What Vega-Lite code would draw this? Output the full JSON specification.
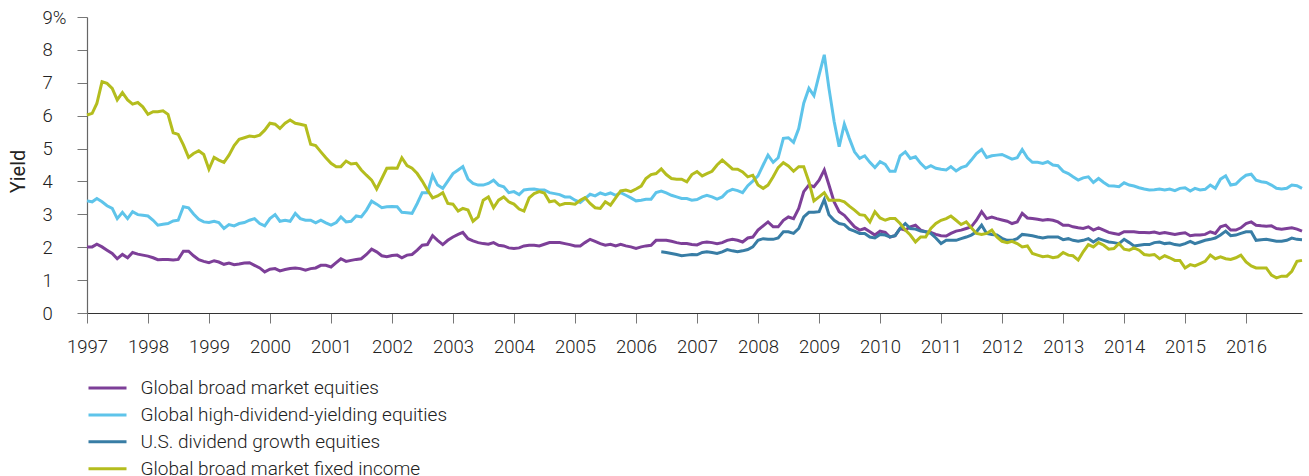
{
  "$schema": "https://vega.github.io/schema/vega-lite/v6.json",
  "width": 1215,
  "height": 296,
  "autosize": "none",
  "padding": {"left": 87, "top": 17, "right": 7, "bottom": 163},
  "background": "white",
  "config": {
    "view": {"stroke": null},
    "font": "Roboto"
  },
  "datasets": {
    "a": [
{"d":"1997-01-01","v":2.01},{"d":"1997-02-01","v":2.01},{"d":"1997-03-01","v":2.09},{"d":"1997-04-01","v":2.01},{"d":"1997-05-01","v":1.91},{"d":"1997-06-01","v":1.81},{"d":"1997-07-01","v":1.65},{"d":"1997-08-01","v":1.78},{"d":"1997-09-01","v":1.68},{"d":"1997-10-01","v":1.84},{"d":"1997-11-01","v":1.79},{"d":"1997-12-01","v":1.76},
{"d":"1998-01-01","v":1.73},{"d":"1998-02-01","v":1.68},{"d":"1998-03-01","v":1.62},{"d":"1998-04-01","v":1.63},{"d":"1998-05-01","v":1.63},{"d":"1998-06-01","v":1.61},{"d":"1998-07-01","v":1.63},{"d":"1998-08-01","v":1.88},{"d":"1998-09-01","v":1.88},{"d":"1998-10-01","v":1.74},{"d":"1998-11-01","v":1.62},{"d":"1998-12-01","v":1.57},
{"d":"1999-01-01","v":1.53},{"d":"1999-02-01","v":1.59},{"d":"1999-03-01","v":1.55},{"d":"1999-04-01","v":1.48},{"d":"1999-05-01","v":1.52},{"d":"1999-06-01","v":1.47},{"d":"1999-07-01","v":1.49},{"d":"1999-08-01","v":1.52},{"d":"1999-09-01","v":1.53},{"d":"1999-10-01","v":1.45},{"d":"1999-11-01","v":1.37},{"d":"1999-12-01","v":1.25},
{"d":"2000-01-01","v":1.33},{"d":"2000-02-01","v":1.35},{"d":"2000-03-01","v":1.28},{"d":"2000-04-01","v":1.32},{"d":"2000-05-01","v":1.35},{"d":"2000-06-01","v":1.37},{"d":"2000-07-01","v":1.35},{"d":"2000-08-01","v":1.30},{"d":"2000-09-01","v":1.35},{"d":"2000-10-01","v":1.37},{"d":"2000-11-01","v":1.45},{"d":"2000-12-01","v":1.45},
{"d":"2001-01-01","v":1.40},{"d":"2001-02-01","v":1.53},{"d":"2001-03-01","v":1.65},{"d":"2001-04-01","v":1.57},{"d":"2001-05-01","v":1.60},{"d":"2001-06-01","v":1.63},{"d":"2001-07-01","v":1.65},{"d":"2001-08-01","v":1.78},{"d":"2001-09-01","v":1.94},{"d":"2001-10-01","v":1.86},{"d":"2001-11-01","v":1.74},{"d":"2001-12-01","v":1.71},
{"d":"2002-01-01","v":1.75},{"d":"2002-02-01","v":1.76},{"d":"2002-03-01","v":1.68},{"d":"2002-04-01","v":1.76},{"d":"2002-05-01","v":1.78},{"d":"2002-06-01","v":1.91},{"d":"2002-07-01","v":2.06},{"d":"2002-08-01","v":2.08},{"d":"2002-09-01","v":2.35},{"d":"2002-10-01","v":2.21},{"d":"2002-11-01","v":2.08},{"d":"2002-12-01","v":2.21},
{"d":"2003-01-01","v":2.31},{"d":"2003-02-01","v":2.39},{"d":"2003-03-01","v":2.45},{"d":"2003-04-01","v":2.26},{"d":"2003-05-01","v":2.19},{"d":"2003-06-01","v":2.14},{"d":"2003-07-01","v":2.11},{"d":"2003-08-01","v":2.09},{"d":"2003-09-01","v":2.14},{"d":"2003-10-01","v":2.06},{"d":"2003-11-01","v":2.04},{"d":"2003-12-01","v":1.98},
{"d":"2004-01-01","v":1.96},{"d":"2004-02-01","v":1.98},{"d":"2004-03-01","v":2.04},{"d":"2004-04-01","v":2.06},{"d":"2004-05-01","v":2.06},{"d":"2004-06-01","v":2.04},{"d":"2004-07-01","v":2.09},{"d":"2004-08-01","v":2.14},{"d":"2004-09-01","v":2.14},{"d":"2004-10-01","v":2.14},{"d":"2004-11-01","v":2.11},{"d":"2004-12-01","v":2.08},
{"d":"2005-01-01","v":2.04},{"d":"2005-02-01","v":2.04},{"d":"2005-03-01","v":2.14},{"d":"2005-04-01","v":2.24},{"d":"2005-05-01","v":2.18},{"d":"2005-06-01","v":2.11},{"d":"2005-07-01","v":2.06},{"d":"2005-08-01","v":2.09},{"d":"2005-09-01","v":2.04},{"d":"2005-10-01","v":2.09},{"d":"2005-11-01","v":2.04},{"d":"2005-12-01","v":2.01},
{"d":"2006-01-01","v":1.96},{"d":"2006-02-01","v":2.01},{"d":"2006-03-01","v":2.04},{"d":"2006-04-01","v":2.06},{"d":"2006-05-01","v":2.21},{"d":"2006-06-01","v":2.21},{"d":"2006-07-01","v":2.21},{"d":"2006-08-01","v":2.18},{"d":"2006-09-01","v":2.14},{"d":"2006-10-01","v":2.11},{"d":"2006-11-01","v":2.11},{"d":"2006-12-01","v":2.08},
{"d":"2007-01-01","v":2.07},{"d":"2007-02-01","v":2.14},{"d":"2007-03-01","v":2.16},{"d":"2007-04-01","v":2.14},{"d":"2007-05-01","v":2.11},{"d":"2007-06-01","v":2.14},{"d":"2007-07-01","v":2.21},{"d":"2007-08-01","v":2.24},{"d":"2007-09-01","v":2.21},{"d":"2007-10-01","v":2.16},{"d":"2007-11-01","v":2.28},{"d":"2007-12-01","v":2.31},
{"d":"2008-01-01","v":2.52},{"d":"2008-02-01","v":2.65},{"d":"2008-03-01","v":2.77},{"d":"2008-04-01","v":2.62},{"d":"2008-05-01","v":2.62},{"d":"2008-06-01","v":2.82},{"d":"2008-07-01","v":2.92},{"d":"2008-08-01","v":2.87},{"d":"2008-09-01","v":3.18},{"d":"2008-10-01","v":3.69},{"d":"2008-11-01","v":3.89},{"d":"2008-12-01","v":3.84},
{"d":"2009-01-01","v":4.04},{"d":"2009-02-01","v":4.35},{"d":"2009-03-01","v":3.89},{"d":"2009-04-01","v":3.38},{"d":"2009-05-01","v":3.08},{"d":"2009-06-01","v":2.97},{"d":"2009-07-01","v":2.80},{"d":"2009-08-01","v":2.62},{"d":"2009-09-01","v":2.52},{"d":"2009-10-01","v":2.57},{"d":"2009-11-01","v":2.47},{"d":"2009-12-01","v":2.37},
{"d":"2010-01-01","v":2.49},{"d":"2010-02-01","v":2.45},{"d":"2010-03-01","v":2.31},{"d":"2010-04-01","v":2.35},{"d":"2010-05-01","v":2.57},{"d":"2010-06-01","v":2.52},{"d":"2010-07-01","v":2.62},{"d":"2010-08-01","v":2.67},{"d":"2010-09-01","v":2.52},{"d":"2010-10-01","v":2.47},{"d":"2010-11-01","v":2.45},{"d":"2010-12-01","v":2.39},
{"d":"2011-01-01","v":2.35},{"d":"2011-02-01","v":2.34},{"d":"2011-03-01","v":2.42},{"d":"2011-04-01","v":2.49},{"d":"2011-05-01","v":2.52},{"d":"2011-06-01","v":2.57},{"d":"2011-07-01","v":2.62},{"d":"2011-08-01","v":2.82},{"d":"2011-09-01","v":3.08},{"d":"2011-10-01","v":2.87},{"d":"2011-11-01","v":2.92},{"d":"2011-12-01","v":2.87},
{"d":"2012-01-01","v":2.83},{"d":"2012-02-01","v":2.79},{"d":"2012-03-01","v":2.72},{"d":"2012-04-01","v":2.77},{"d":"2012-05-01","v":3.03},{"d":"2012-06-01","v":2.89},{"d":"2012-07-01","v":2.87},{"d":"2012-08-01","v":2.85},{"d":"2012-09-01","v":2.82},{"d":"2012-10-01","v":2.84},{"d":"2012-11-01","v":2.82},{"d":"2012-12-01","v":2.77},
{"d":"2013-01-01","v":2.67},{"d":"2013-02-01","v":2.67},{"d":"2013-03-01","v":2.62},{"d":"2013-04-01","v":2.59},{"d":"2013-05-01","v":2.57},{"d":"2013-06-01","v":2.62},{"d":"2013-07-01","v":2.52},{"d":"2013-08-01","v":2.59},{"d":"2013-09-01","v":2.52},{"d":"2013-10-01","v":2.45},{"d":"2013-11-01","v":2.42},{"d":"2013-12-01","v":2.39},
{"d":"2014-01-01","v":2.47},{"d":"2014-02-01","v":2.47},{"d":"2014-03-01","v":2.47},{"d":"2014-04-01","v":2.45},{"d":"2014-05-01","v":2.45},{"d":"2014-06-01","v":2.44},{"d":"2014-07-01","v":2.46},{"d":"2014-08-01","v":2.42},{"d":"2014-09-01","v":2.45},{"d":"2014-10-01","v":2.42},{"d":"2014-11-01","v":2.39},{"d":"2014-12-01","v":2.42},
{"d":"2015-01-01","v":2.44},{"d":"2015-02-01","v":2.35},{"d":"2015-03-01","v":2.37},{"d":"2015-04-01","v":2.37},{"d":"2015-05-01","v":2.39},{"d":"2015-06-01","v":2.47},{"d":"2015-07-01","v":2.42},{"d":"2015-08-01","v":2.62},{"d":"2015-09-01","v":2.67},{"d":"2015-10-01","v":2.52},{"d":"2015-11-01","v":2.52},{"d":"2015-12-01","v":2.59},
{"d":"2016-01-01","v":2.72},{"d":"2016-02-01","v":2.77},{"d":"2016-03-01","v":2.67},{"d":"2016-04-01","v":2.65},{"d":"2016-05-01","v":2.64},{"d":"2016-06-01","v":2.65},{"d":"2016-07-01","v":2.57},{"d":"2016-08-01","v":2.55},{"d":"2016-09-01","v":2.57},{"d":"2016-10-01","v":2.59},{"d":"2016-11-01","v":2.55},{"d":"2016-12-01","v":2.49}
    ],
    "b": [
{"d":"1997-01-01","v":3.41},{"d":"1997-02-01","v":3.38},{"d":"1997-03-01","v":3.48},{"d":"1997-04-01","v":3.38},{"d":"1997-05-01","v":3.26},{"d":"1997-06-01","v":3.18},{"d":"1997-07-01","v":2.87},{"d":"1997-08-01","v":3.06},{"d":"1997-09-01","v":2.87},{"d":"1997-10-01","v":3.08},{"d":"1997-11-01","v":2.99},{"d":"1997-12-01","v":2.97},
{"d":"1998-01-01","v":2.95},{"d":"1998-02-01","v":2.82},{"d":"1998-03-01","v":2.67},{"d":"1998-04-01","v":2.70},{"d":"1998-05-01","v":2.72},{"d":"1998-06-01","v":2.80},{"d":"1998-07-01","v":2.82},{"d":"1998-08-01","v":3.23},{"d":"1998-09-01","v":3.20},{"d":"1998-10-01","v":3.01},{"d":"1998-11-01","v":2.85},{"d":"1998-12-01","v":2.77},
{"d":"1999-01-01","v":2.75},{"d":"1999-02-01","v":2.79},{"d":"1999-03-01","v":2.75},{"d":"1999-04-01","v":2.57},{"d":"1999-05-01","v":2.69},{"d":"1999-06-01","v":2.65},{"d":"1999-07-01","v":2.72},{"d":"1999-08-01","v":2.75},{"d":"1999-09-01","v":2.82},{"d":"1999-10-01","v":2.87},{"d":"1999-11-01","v":2.72},{"d":"1999-12-01","v":2.65},
{"d":"2000-01-01","v":2.87},{"d":"2000-02-01","v":2.99},{"d":"2000-03-01","v":2.79},{"d":"2000-04-01","v":2.82},{"d":"2000-05-01","v":2.79},{"d":"2000-06-01","v":3.03},{"d":"2000-07-01","v":2.87},{"d":"2000-08-01","v":2.82},{"d":"2000-09-01","v":2.82},{"d":"2000-10-01","v":2.74},{"d":"2000-11-01","v":2.82},{"d":"2000-12-01","v":2.74},
{"d":"2001-01-01","v":2.67},{"d":"2001-02-01","v":2.75},{"d":"2001-03-01","v":2.92},{"d":"2001-04-01","v":2.77},{"d":"2001-05-01","v":2.79},{"d":"2001-06-01","v":2.95},{"d":"2001-07-01","v":2.92},{"d":"2001-08-01","v":3.13},{"d":"2001-09-01","v":3.40},{"d":"2001-10-01","v":3.31},{"d":"2001-11-01","v":3.20},{"d":"2001-12-01","v":3.23},
{"d":"2002-01-01","v":3.24},{"d":"2002-02-01","v":3.23},{"d":"2002-03-01","v":3.06},{"d":"2002-04-01","v":3.05},{"d":"2002-05-01","v":3.03},{"d":"2002-06-01","v":3.33},{"d":"2002-07-01","v":3.66},{"d":"2002-08-01","v":3.66},{"d":"2002-09-01","v":4.19},{"d":"2002-10-01","v":3.89},{"d":"2002-11-01","v":3.79},{"d":"2002-12-01","v":4.01},
{"d":"2003-01-01","v":4.24},{"d":"2003-02-01","v":4.35},{"d":"2003-03-01","v":4.45},{"d":"2003-04-01","v":4.07},{"d":"2003-05-01","v":3.94},{"d":"2003-06-01","v":3.89},{"d":"2003-07-01","v":3.89},{"d":"2003-08-01","v":3.94},{"d":"2003-09-01","v":4.04},{"d":"2003-10-01","v":3.89},{"d":"2003-11-01","v":3.84},{"d":"2003-12-01","v":3.66},
{"d":"2004-01-01","v":3.69},{"d":"2004-02-01","v":3.60},{"d":"2004-03-01","v":3.74},{"d":"2004-04-01","v":3.76},{"d":"2004-05-01","v":3.77},{"d":"2004-06-01","v":3.74},{"d":"2004-07-01","v":3.74},{"d":"2004-08-01","v":3.66},{"d":"2004-09-01","v":3.63},{"d":"2004-10-01","v":3.60},{"d":"2004-11-01","v":3.53},{"d":"2004-12-01","v":3.53},
{"d":"2005-01-01","v":3.43},{"d":"2005-02-01","v":3.36},{"d":"2005-03-01","v":3.48},{"d":"2005-04-01","v":3.61},{"d":"2005-05-01","v":3.56},{"d":"2005-06-01","v":3.65},{"d":"2005-07-01","v":3.60},{"d":"2005-08-01","v":3.65},{"d":"2005-09-01","v":3.58},{"d":"2005-10-01","v":3.66},{"d":"2005-11-01","v":3.58},{"d":"2005-12-01","v":3.50},
{"d":"2006-01-01","v":3.41},{"d":"2006-02-01","v":3.43},{"d":"2006-03-01","v":3.46},{"d":"2006-04-01","v":3.46},{"d":"2006-05-01","v":3.66},{"d":"2006-06-01","v":3.71},{"d":"2006-07-01","v":3.65},{"d":"2006-08-01","v":3.58},{"d":"2006-09-01","v":3.53},{"d":"2006-10-01","v":3.48},{"d":"2006-11-01","v":3.48},{"d":"2006-12-01","v":3.43},
{"d":"2007-01-01","v":3.45},{"d":"2007-02-01","v":3.53},{"d":"2007-03-01","v":3.58},{"d":"2007-04-01","v":3.53},{"d":"2007-05-01","v":3.46},{"d":"2007-06-01","v":3.53},{"d":"2007-07-01","v":3.69},{"d":"2007-08-01","v":3.76},{"d":"2007-09-01","v":3.72},{"d":"2007-10-01","v":3.66},{"d":"2007-11-01","v":3.87},{"d":"2007-12-01","v":4.01},
{"d":"2008-01-01","v":4.17},{"d":"2008-02-01","v":4.50},{"d":"2008-03-01","v":4.80},{"d":"2008-04-01","v":4.58},{"d":"2008-05-01","v":4.72},{"d":"2008-06-01","v":5.31},{"d":"2008-07-01","v":5.33},{"d":"2008-08-01","v":5.19},{"d":"2008-09-01","v":5.61},{"d":"2008-10-01","v":6.38},{"d":"2008-11-01","v":6.83},{"d":"2008-12-01","v":6.61},
{"d":"2009-01-01","v":7.24},{"d":"2009-02-01","v":7.85},{"d":"2009-03-01","v":6.83},{"d":"2009-04-01","v":5.82},{"d":"2009-05-01","v":5.06},{"d":"2009-06-01","v":5.74},{"d":"2009-07-01","v":5.31},{"d":"2009-08-01","v":4.90},{"d":"2009-09-01","v":4.70},{"d":"2009-10-01","v":4.78},{"d":"2009-11-01","v":4.58},{"d":"2009-12-01","v":4.42},
{"d":"2010-01-01","v":4.60},{"d":"2010-02-01","v":4.52},{"d":"2010-03-01","v":4.31},{"d":"2010-04-01","v":4.31},{"d":"2010-05-01","v":4.78},{"d":"2010-06-01","v":4.90},{"d":"2010-07-01","v":4.70},{"d":"2010-08-01","v":4.75},{"d":"2010-09-01","v":4.55},{"d":"2010-10-01","v":4.40},{"d":"2010-11-01","v":4.48},{"d":"2010-12-01","v":4.40},
{"d":"2011-01-01","v":4.37},{"d":"2011-02-01","v":4.35},{"d":"2011-03-01","v":4.45},{"d":"2011-04-01","v":4.32},{"d":"2011-05-01","v":4.42},{"d":"2011-06-01","v":4.47},{"d":"2011-07-01","v":4.65},{"d":"2011-08-01","v":4.85},{"d":"2011-09-01","v":4.97},{"d":"2011-10-01","v":4.73},{"d":"2011-11-01","v":4.78},{"d":"2011-12-01","v":4.80},
{"d":"2012-01-01","v":4.82},{"d":"2012-02-01","v":4.75},{"d":"2012-03-01","v":4.68},{"d":"2012-04-01","v":4.72},{"d":"2012-05-01","v":4.97},{"d":"2012-06-01","v":4.72},{"d":"2012-07-01","v":4.58},{"d":"2012-08-01","v":4.58},{"d":"2012-09-01","v":4.55},{"d":"2012-10-01","v":4.60},{"d":"2012-11-01","v":4.50},{"d":"2012-12-01","v":4.48},
{"d":"2013-01-01","v":4.31},{"d":"2013-02-01","v":4.24},{"d":"2013-03-01","v":4.14},{"d":"2013-04-01","v":4.04},{"d":"2013-05-01","v":4.11},{"d":"2013-06-01","v":4.14},{"d":"2013-07-01","v":3.97},{"d":"2013-08-01","v":4.09},{"d":"2013-09-01","v":3.97},{"d":"2013-10-01","v":3.87},{"d":"2013-11-01","v":3.86},{"d":"2013-12-01","v":3.84},
{"d":"2014-01-01","v":3.96},{"d":"2014-02-01","v":3.89},{"d":"2014-03-01","v":3.86},{"d":"2014-04-01","v":3.81},{"d":"2014-05-01","v":3.77},{"d":"2014-06-01","v":3.74},{"d":"2014-07-01","v":3.75},{"d":"2014-08-01","v":3.77},{"d":"2014-09-01","v":3.74},{"d":"2014-10-01","v":3.77},{"d":"2014-11-01","v":3.72},{"d":"2014-12-01","v":3.79},
{"d":"2015-01-01","v":3.81},{"d":"2015-02-01","v":3.71},{"d":"2015-03-01","v":3.79},{"d":"2015-04-01","v":3.74},{"d":"2015-05-01","v":3.76},{"d":"2015-06-01","v":3.89},{"d":"2015-07-01","v":3.79},{"d":"2015-08-01","v":4.07},{"d":"2015-09-01","v":4.17},{"d":"2015-10-01","v":3.89},{"d":"2015-11-01","v":3.92},{"d":"2015-12-01","v":4.07},
{"d":"2016-01-01","v":4.19},{"d":"2016-02-01","v":4.22},{"d":"2016-03-01","v":4.04},{"d":"2016-04-01","v":3.99},{"d":"2016-05-01","v":3.97},{"d":"2016-06-01","v":3.89},{"d":"2016-07-01","v":3.79},{"d":"2016-08-01","v":3.77},{"d":"2016-09-01","v":3.79},{"d":"2016-10-01","v":3.89},{"d":"2016-11-01","v":3.87},{"d":"2016-12-01","v":3.79}
    ],
    "c": [
{"d":"2006-06-01","v":1.86},{"d":"2006-07-01","v":1.84},{"d":"2006-08-01","v":1.81},{"d":"2006-09-01","v":1.78},{"d":"2006-10-01","v":1.74},{"d":"2006-11-01","v":1.76},{"d":"2006-12-01","v":1.78},
{"d":"2007-01-01","v":1.77},{"d":"2007-02-01","v":1.84},{"d":"2007-03-01","v":1.86},{"d":"2007-04-01","v":1.84},{"d":"2007-05-01","v":1.81},{"d":"2007-06-01","v":1.86},{"d":"2007-07-01","v":1.93},{"d":"2007-08-01","v":1.89},{"d":"2007-09-01","v":1.86},{"d":"2007-10-01","v":1.89},{"d":"2007-11-01","v":1.93},{"d":"2007-12-01","v":2.01},
{"d":"2008-01-01","v":2.21},{"d":"2008-02-01","v":2.26},{"d":"2008-03-01","v":2.24},{"d":"2008-04-01","v":2.24},{"d":"2008-05-01","v":2.28},{"d":"2008-06-01","v":2.47},{"d":"2008-07-01","v":2.47},{"d":"2008-08-01","v":2.42},{"d":"2008-09-01","v":2.57},{"d":"2008-10-01","v":2.92},{"d":"2008-11-01","v":3.06},{"d":"2008-12-01","v":3.06},
{"d":"2009-01-01","v":3.08},{"d":"2009-02-01","v":3.45},{"d":"2009-03-01","v":2.99},{"d":"2009-04-01","v":2.82},{"d":"2009-05-01","v":2.72},{"d":"2009-06-01","v":2.69},{"d":"2009-07-01","v":2.55},{"d":"2009-08-01","v":2.49},{"d":"2009-09-01","v":2.42},{"d":"2009-10-01","v":2.42},{"d":"2009-11-01","v":2.31},{"d":"2009-12-01","v":2.28},
{"d":"2010-01-01","v":2.39},{"d":"2010-02-01","v":2.37},{"d":"2010-03-01","v":2.31},{"d":"2010-04-01","v":2.35},{"d":"2010-05-01","v":2.57},{"d":"2010-06-01","v":2.72},{"d":"2010-07-01","v":2.57},{"d":"2010-08-01","v":2.55},{"d":"2010-09-01","v":2.49},{"d":"2010-10-01","v":2.47},{"d":"2010-11-01","v":2.42},{"d":"2010-12-01","v":2.28},
{"d":"2011-01-01","v":2.11},{"d":"2011-02-01","v":2.21},{"d":"2011-03-01","v":2.21},{"d":"2011-04-01","v":2.21},{"d":"2011-05-01","v":2.26},{"d":"2011-06-01","v":2.31},{"d":"2011-07-01","v":2.37},{"d":"2011-08-01","v":2.47},{"d":"2011-09-01","v":2.67},{"d":"2011-10-01","v":2.42},{"d":"2011-11-01","v":2.39},{"d":"2011-12-01","v":2.37},
{"d":"2012-01-01","v":2.27},{"d":"2012-02-01","v":2.21},{"d":"2012-03-01","v":2.21},{"d":"2012-04-01","v":2.26},{"d":"2012-05-01","v":2.39},{"d":"2012-06-01","v":2.37},{"d":"2012-07-01","v":2.35},{"d":"2012-08-01","v":2.31},{"d":"2012-09-01","v":2.28},{"d":"2012-10-01","v":2.31},{"d":"2012-11-01","v":2.31},{"d":"2012-12-01","v":2.31},
{"d":"2013-01-01","v":2.23},{"d":"2013-02-01","v":2.26},{"d":"2013-03-01","v":2.21},{"d":"2013-04-01","v":2.18},{"d":"2013-05-01","v":2.21},{"d":"2013-06-01","v":2.26},{"d":"2013-07-01","v":2.16},{"d":"2013-08-01","v":2.26},{"d":"2013-09-01","v":2.21},{"d":"2013-10-01","v":2.16},{"d":"2013-11-01","v":2.14},{"d":"2013-12-01","v":2.11},
{"d":"2014-01-01","v":2.24},{"d":"2014-02-01","v":2.14},{"d":"2014-03-01","v":2.04},{"d":"2014-04-01","v":2.06},{"d":"2014-05-01","v":2.08},{"d":"2014-06-01","v":2.08},{"d":"2014-07-01","v":2.14},{"d":"2014-08-01","v":2.16},{"d":"2014-09-01","v":2.11},{"d":"2014-10-01","v":2.13},{"d":"2014-11-01","v":2.08},{"d":"2014-12-01","v":2.06},
{"d":"2015-01-01","v":2.11},{"d":"2015-02-01","v":2.18},{"d":"2015-03-01","v":2.11},{"d":"2015-04-01","v":2.16},{"d":"2015-05-01","v":2.21},{"d":"2015-06-01","v":2.24},{"d":"2015-07-01","v":2.28},{"d":"2015-08-01","v":2.37},{"d":"2015-09-01","v":2.49},{"d":"2015-10-01","v":2.35},{"d":"2015-11-01","v":2.37},{"d":"2015-12-01","v":2.42},
{"d":"2016-01-01","v":2.47},{"d":"2016-02-01","v":2.47},{"d":"2016-03-01","v":2.21},{"d":"2016-04-01","v":2.23},{"d":"2016-05-01","v":2.24},{"d":"2016-06-01","v":2.21},{"d":"2016-07-01","v":2.18},{"d":"2016-08-01","v":2.18},{"d":"2016-09-01","v":2.21},{"d":"2016-10-01","v":2.28},{"d":"2016-11-01","v":2.24},{"d":"2016-12-01","v":2.23}
    ],
    "f": [
{"d":"1997-01-01","v":6.02},{"d":"1997-02-01","v":6.07},{"d":"1997-03-01","v":6.37},{"d":"1997-04-01","v":7.03},{"d":"1997-05-01","v":6.98},{"d":"1997-06-01","v":6.83},{"d":"1997-07-01","v":6.48},{"d":"1997-08-01","v":6.70},{"d":"1997-09-01","v":6.48},{"d":"1997-10-01","v":6.35},{"d":"1997-11-01","v":6.40},{"d":"1997-12-01","v":6.27},
{"d":"1998-01-01","v":6.04},{"d":"1998-02-01","v":6.12},{"d":"1998-03-01","v":6.12},{"d":"1998-04-01","v":6.15},{"d":"1998-05-01","v":6.04},{"d":"1998-06-01","v":5.48},{"d":"1998-07-01","v":5.43},{"d":"1998-08-01","v":5.11},{"d":"1998-09-01","v":4.73},{"d":"1998-10-01","v":4.85},{"d":"1998-11-01","v":4.93},{"d":"1998-12-01","v":4.82},
{"d":"1999-01-01","v":4.37},{"d":"1999-02-01","v":4.73},{"d":"1999-03-01","v":4.65},{"d":"1999-04-01","v":4.58},{"d":"1999-05-01","v":4.80},{"d":"1999-06-01","v":5.09},{"d":"1999-07-01","v":5.28},{"d":"1999-08-01","v":5.33},{"d":"1999-09-01","v":5.38},{"d":"1999-10-01","v":5.36},{"d":"1999-11-01","v":5.41},{"d":"1999-12-01","v":5.56},
{"d":"2000-01-01","v":5.77},{"d":"2000-02-01","v":5.74},{"d":"2000-03-01","v":5.61},{"d":"2000-04-01","v":5.77},{"d":"2000-05-01","v":5.87},{"d":"2000-06-01","v":5.77},{"d":"2000-07-01","v":5.74},{"d":"2000-08-01","v":5.70},{"d":"2000-09-01","v":5.13},{"d":"2000-10-01","v":5.09},{"d":"2000-11-01","v":4.90},{"d":"2000-12-01","v":4.72},
{"d":"2001-01-01","v":4.55},{"d":"2001-02-01","v":4.45},{"d":"2001-03-01","v":4.45},{"d":"2001-04-01","v":4.62},{"d":"2001-05-01","v":4.53},{"d":"2001-06-01","v":4.55},{"d":"2001-07-01","v":4.35},{"d":"2001-08-01","v":4.19},{"d":"2001-09-01","v":4.04},{"d":"2001-10-01","v":3.77},{"d":"2001-11-01","v":4.09},{"d":"2001-12-01","v":4.40},
{"d":"2002-01-01","v":4.41},{"d":"2002-02-01","v":4.40},{"d":"2002-03-01","v":4.72},{"d":"2002-04-01","v":4.48},{"d":"2002-05-01","v":4.40},{"d":"2002-06-01","v":4.24},{"d":"2002-07-01","v":4.01},{"d":"2002-08-01","v":3.74},{"d":"2002-09-01","v":3.50},{"d":"2002-10-01","v":3.56},{"d":"2002-11-01","v":3.66},{"d":"2002-12-01","v":3.33},
{"d":"2003-01-01","v":3.31},{"d":"2003-02-01","v":3.10},{"d":"2003-03-01","v":3.18},{"d":"2003-04-01","v":3.13},{"d":"2003-05-01","v":2.79},{"d":"2003-06-01","v":2.92},{"d":"2003-07-01","v":3.43},{"d":"2003-08-01","v":3.53},{"d":"2003-09-01","v":3.20},{"d":"2003-10-01","v":3.43},{"d":"2003-11-01","v":3.53},{"d":"2003-12-01","v":3.38},
{"d":"2004-01-01","v":3.31},{"d":"2004-02-01","v":3.16},{"d":"2004-03-01","v":3.10},{"d":"2004-04-01","v":3.50},{"d":"2004-05-01","v":3.63},{"d":"2004-06-01","v":3.69},{"d":"2004-07-01","v":3.65},{"d":"2004-08-01","v":3.38},{"d":"2004-09-01","v":3.41},{"d":"2004-10-01","v":3.28},{"d":"2004-11-01","v":3.33},{"d":"2004-12-01","v":3.33},
{"d":"2005-01-01","v":3.31},{"d":"2005-02-01","v":3.43},{"d":"2005-03-01","v":3.51},{"d":"2005-04-01","v":3.33},{"d":"2005-05-01","v":3.20},{"d":"2005-06-01","v":3.18},{"d":"2005-07-01","v":3.38},{"d":"2005-08-01","v":3.28},{"d":"2005-09-01","v":3.50},{"d":"2005-10-01","v":3.71},{"d":"2005-11-01","v":3.74},{"d":"2005-12-01","v":3.69},
{"d":"2006-01-01","v":3.77},{"d":"2006-02-01","v":3.86},{"d":"2006-03-01","v":4.09},{"d":"2006-04-01","v":4.21},{"d":"2006-05-01","v":4.24},{"d":"2006-06-01","v":4.38},{"d":"2006-07-01","v":4.21},{"d":"2006-08-01","v":4.09},{"d":"2006-09-01","v":4.07},{"d":"2006-10-01","v":4.07},{"d":"2006-11-01","v":3.99},{"d":"2006-12-01","v":4.21},
{"d":"2007-01-01","v":4.30},{"d":"2007-02-01","v":4.17},{"d":"2007-03-01","v":4.24},{"d":"2007-04-01","v":4.31},{"d":"2007-05-01","v":4.50},{"d":"2007-06-01","v":4.65},{"d":"2007-07-01","v":4.52},{"d":"2007-08-01","v":4.38},{"d":"2007-09-01","v":4.37},{"d":"2007-10-01","v":4.29},{"d":"2007-11-01","v":4.14},{"d":"2007-12-01","v":4.19},
{"d":"2008-01-01","v":3.89},{"d":"2008-02-01","v":3.79},{"d":"2008-03-01","v":3.89},{"d":"2008-04-01","v":4.14},{"d":"2008-05-01","v":4.42},{"d":"2008-06-01","v":4.57},{"d":"2008-07-01","v":4.47},{"d":"2008-08-01","v":4.31},{"d":"2008-09-01","v":4.45},{"d":"2008-10-01","v":4.45},{"d":"2008-11-01","v":3.99},{"d":"2008-12-01","v":3.41},
{"d":"2009-01-01","v":3.53},{"d":"2009-02-01","v":3.66},{"d":"2009-03-01","v":3.43},{"d":"2009-04-01","v":3.43},{"d":"2009-05-01","v":3.43},{"d":"2009-06-01","v":3.38},{"d":"2009-07-01","v":3.25},{"d":"2009-08-01","v":3.13},{"d":"2009-09-01","v":2.99},{"d":"2009-10-01","v":2.97},{"d":"2009-11-01","v":2.77},{"d":"2009-12-01","v":3.08},
{"d":"2010-01-01","v":2.89},{"d":"2010-02-01","v":2.82},{"d":"2010-03-01","v":2.87},{"d":"2010-04-01","v":2.87},{"d":"2010-05-01","v":2.72},{"d":"2010-06-01","v":2.52},{"d":"2010-07-01","v":2.37},{"d":"2010-08-01","v":2.16},{"d":"2010-09-01","v":2.31},{"d":"2010-10-01","v":2.31},{"d":"2010-11-01","v":2.57},{"d":"2010-12-01","v":2.72},
{"d":"2011-01-01","v":2.82},{"d":"2011-02-01","v":2.87},{"d":"2011-03-01","v":2.95},{"d":"2011-04-01","v":2.82},{"d":"2011-05-01","v":2.69},{"d":"2011-06-01","v":2.77},{"d":"2011-07-01","v":2.59},{"d":"2011-08-01","v":2.42},{"d":"2011-09-01","v":2.39},{"d":"2011-10-01","v":2.42},{"d":"2011-11-01","v":2.52},{"d":"2011-12-01","v":2.31},
{"d":"2012-01-01","v":2.18},{"d":"2012-02-01","v":2.14},{"d":"2012-03-01","v":2.18},{"d":"2012-04-01","v":2.11},{"d":"2012-05-01","v":2.01},{"d":"2012-06-01","v":2.04},{"d":"2012-07-01","v":1.81},{"d":"2012-08-01","v":1.76},{"d":"2012-09-01","v":1.71},{"d":"2012-10-01","v":1.73},{"d":"2012-11-01","v":1.68},{"d":"2012-12-01","v":1.71},
{"d":"2013-01-01","v":1.84},{"d":"2013-02-01","v":1.76},{"d":"2013-03-01","v":1.74},{"d":"2013-04-01","v":1.61},{"d":"2013-05-01","v":1.86},{"d":"2013-06-01","v":2.08},{"d":"2013-07-01","v":2.01},{"d":"2013-08-01","v":2.14},{"d":"2013-09-01","v":2.06},{"d":"2013-10-01","v":1.94},{"d":"2013-11-01","v":1.96},{"d":"2013-12-01","v":2.11},
{"d":"2014-01-01","v":1.94},{"d":"2014-02-01","v":1.91},{"d":"2014-03-01","v":1.98},{"d":"2014-04-01","v":1.91},{"d":"2014-05-01","v":1.78},{"d":"2014-06-01","v":1.76},{"d":"2014-07-01","v":1.78},{"d":"2014-08-01","v":1.65},{"d":"2014-09-01","v":1.74},{"d":"2014-10-01","v":1.68},{"d":"2014-11-01","v":1.60},{"d":"2014-12-01","v":1.60},
{"d":"2015-01-01","v":1.37},{"d":"2015-02-01","v":1.47},{"d":"2015-03-01","v":1.43},{"d":"2015-04-01","v":1.50},{"d":"2015-05-01","v":1.57},{"d":"2015-06-01","v":1.76},{"d":"2015-07-01","v":1.65},{"d":"2015-08-01","v":1.71},{"d":"2015-09-01","v":1.65},{"d":"2015-10-01","v":1.63},{"d":"2015-11-01","v":1.68},{"d":"2015-12-01","v":1.76},
{"d":"2016-01-01","v":1.55},{"d":"2016-02-01","v":1.43},{"d":"2016-03-01","v":1.37},{"d":"2016-04-01","v":1.37},{"d":"2016-05-01","v":1.37},{"d":"2016-06-01","v":1.15},{"d":"2016-07-01","v":1.07},{"d":"2016-08-01","v":1.12},{"d":"2016-09-01","v":1.12},{"d":"2016-10-01","v":1.27},{"d":"2016-11-01","v":1.57},{"d":"2016-12-01","v":1.60}
    ]
  },
  "encoding": {
    "x": {
      "field": "d",
      "type": "temporal",
      "scale": {
        "type": "utc",
        "nice": false,
        "domain": [{"year": 1997, "month": 1, "date": 1, "utc": true}, {"year": 2016, "month": 12, "date": 1, "utc": true}]
      },
      "axis": {
        "title": null,
        "format": "%Y",
        "formatType": "utc",
        "tickCount": {"interval": "year", "step": 1},
        "grid": false,
        "domainColor": "#333333",
        "domainWidth": 1.2,
        "tickColor": "#777777",
        "tickWidth": 1,
        "tickSize": 10,
        "labelFont": "Roboto",
        "labelFontWeight": 300,
        "labelFontSize": 18.5,
        "labelColor": "#222222",
        "labelPadding": 14,
        "labelFlush": false,
        "labelOverlap": false
      }
    },
    "y": {
      "field": "v",
      "type": "quantitative",
      "scale": {"domain": [0, 9], "nice": false, "zero": true},
      "axis": {
        "title": "Yield",
        "values": [0, 1, 2, 3, 4, 5, 6, 7, 8, 9],
        "labelExpr": "datum.value == 9 ? '9%' : datum.label",
        "grid": false,
        "domainColor": "#666666",
        "domainWidth": 1.2,
        "tickColor": "#777777",
        "tickWidth": 1,
        "tickSize": 10,
        "labelAlign": "left",
        "labelBaseline": "middle",
        "labelPadding": 35,
        "labelFont": "Roboto",
        "labelFontWeight": 300,
        "labelFontSize": 18.5,
        "labelColor": "#222222",
        "titleFont": "Roboto",
        "titleFontWeight": 400,
        "titleFontSize": 20,
        "titleColor": "#222222",
        "titleAngle": -90,
        "titleAlign": "center",
        "titleBaseline": "middle",
        "titleX": -69,
        "titleY": 154
      }
    }
  },
  "layer": [
    {"data": {"name": "a"}, "mark": {"type": "line", "strokeWidth": 3},
     "encoding": {"color": {"datum": "Global broad market equities", "type": "nominal",
      "scale": {
        "domain": ["Global broad market equities", "Global high-dividend-yielding equities", "U.S. dividend growth equities", "Global broad market fixed income"],
        "range": ["#7D3F98", "#5EC4EA", "#387DA5", "#B4BD1E"]
      },
      "legend": {
        "title": null,
        "orient": "none",
        "legendX": 9.5,
        "legendY": 360,
        "direction": "vertical",
        "padding": 0,
        "symbolType": "M-2,0H2",
        "symbolSize": 361,
        "symbolStrokeWidth": 3,
        "rowPadding": 5.9,
        "labelOffset": 22,
        "labelFont": "Roboto",
        "labelFontWeight": 300,
        "labelFontSize": 19,
        "labelColor": "#222222",
        "labelLimit": 700
      }}}},
    {"data": {"name": "b"}, "mark": {"type": "line", "strokeWidth": 3}, "encoding": {"color": {"datum": "Global high-dividend-yielding equities", "type": "nominal"}}},
    {"data": {"name": "c"}, "mark": {"type": "line", "strokeWidth": 3}, "encoding": {"color": {"datum": "U.S. dividend growth equities", "type": "nominal"}}},
    {"data": {"name": "f"}, "mark": {"type": "line", "strokeWidth": 3}, "encoding": {"color": {"datum": "Global broad market fixed income", "type": "nominal"}}}
  ]
}
